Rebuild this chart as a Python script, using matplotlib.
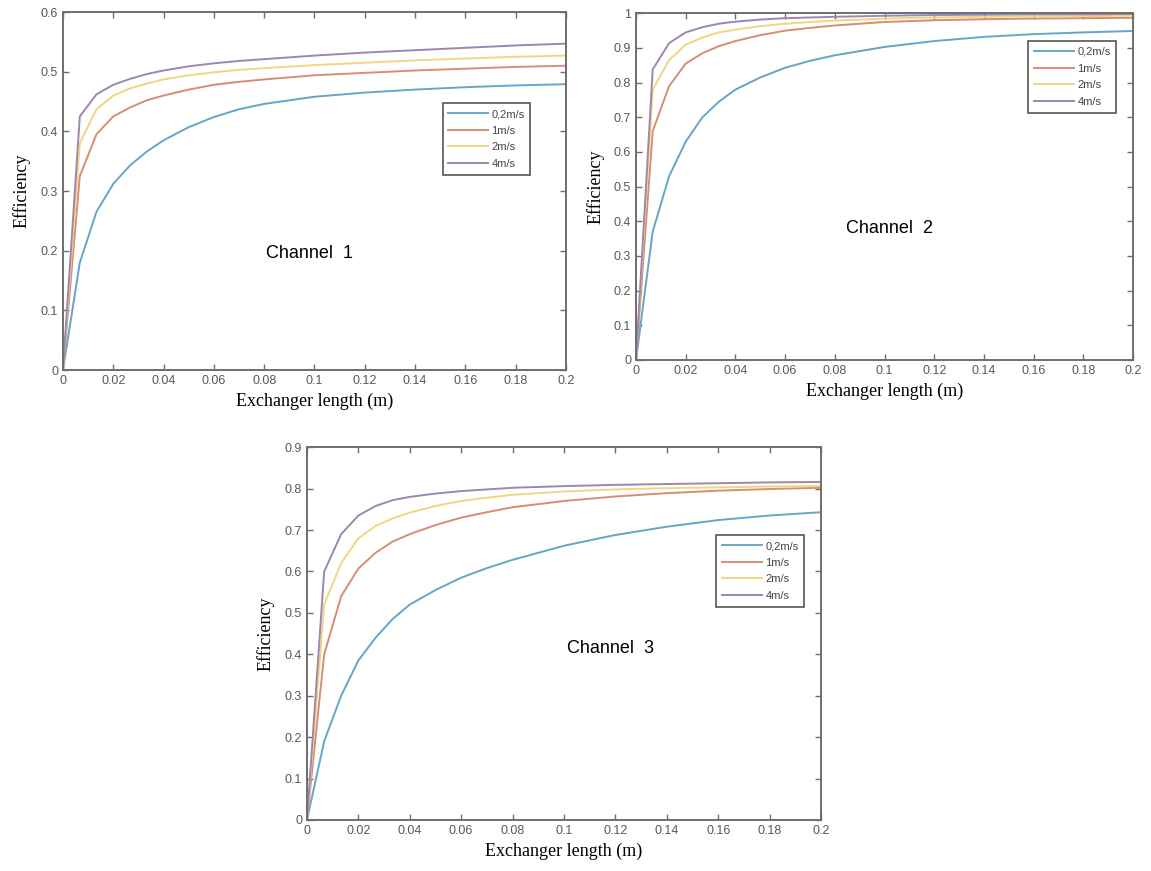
import matplotlib
matplotlib.use('Agg')
import matplotlib.pyplot as plt

# exchanger length (m)
length = [0, 0.0067, 0.0133, 0.02, 0.0267, 0.0333, 0.04, 0.05, 0.06, 0.07,
          0.08, 0.1, 0.12, 0.14, 0.16, 0.18, 0.2]

speeds = ['0,2m/s', '1m/s', '2m/s', '4m/s']

# channel 1
ch1_02 = [0, 0.18, 0.265, 0.312, 0.343, 0.366, 0.385, 0.407, 0.424, 0.437,
          0.446, 0.458, 0.465, 0.47, 0.474, 0.477, 0.479]
ch1_1 = [0, 0.325, 0.395, 0.425, 0.44, 0.452, 0.46, 0.47, 0.478, 0.483,
         0.487, 0.494, 0.498, 0.502, 0.505, 0.508, 0.51]
ch1_2 = [0, 0.38, 0.437, 0.46, 0.472, 0.48, 0.487, 0.494, 0.499, 0.503,
         0.506, 0.511, 0.515, 0.519, 0.522, 0.525, 0.527]
ch1_4 = [0, 0.425, 0.462, 0.478, 0.488, 0.496, 0.502, 0.509, 0.514, 0.518,
         0.521, 0.527, 0.532, 0.536, 0.54, 0.544, 0.547]

# channel 2
ch2_02 = [0, 0.37, 0.53, 0.63, 0.70, 0.745, 0.78, 0.815, 0.843, 0.863,
          0.879, 0.903, 0.92, 0.932, 0.94, 0.945, 0.949]
ch2_1 = [0, 0.66, 0.79, 0.855, 0.885, 0.905, 0.92, 0.937, 0.95, 0.958,
         0.965, 0.975, 0.98, 0.983, 0.985, 0.986, 0.987]
ch2_2 = [0, 0.78, 0.865, 0.91, 0.93, 0.945, 0.953, 0.963, 0.97, 0.975,
         0.979, 0.985, 0.988, 0.99, 0.991, 0.992, 0.993]
ch2_4 = [0, 0.838, 0.914, 0.945, 0.96, 0.97, 0.976, 0.982, 0.986, 0.988,
         0.99, 0.993, 0.995, 0.996, 0.997, 0.997, 0.998]

# channel 3
ch3_02 = [0, 0.19, 0.30, 0.385, 0.44, 0.485, 0.52, 0.555, 0.585, 0.608,
          0.628, 0.662, 0.688, 0.708, 0.724, 0.735, 0.743]
ch3_1 = [0, 0.40, 0.54, 0.607, 0.645, 0.672, 0.69, 0.712, 0.73, 0.743,
         0.755, 0.77, 0.781, 0.789, 0.795, 0.799, 0.802]
ch3_2 = [0, 0.52, 0.62, 0.68, 0.71, 0.728, 0.742, 0.758, 0.77, 0.778,
         0.785, 0.793, 0.798, 0.801, 0.803, 0.805, 0.806]
ch3_4 = [0, 0.60, 0.69, 0.735, 0.758, 0.772, 0.78, 0.788, 0.794, 0.798,
         0.802, 0.806, 0.809, 0.811, 0.813, 0.815, 0.816]

colors = ['#67a5c6', '#d68e72', '#f0d680', '#9d86b0']
gray = '#6e6e6e'


def make_panel(fig, rect, curves, ymax, yticks, name, name_xy, leg_anchor):
    ax = fig.add_axes(rect)
    for vals, lab, col in zip(curves, speeds, colors):
        ax.plot(length, vals, color=col, lw=1.4, label=lab)
    ax.set_xlim(0, 0.2)
    ax.set_ylim(0, ymax)
    xt = [0, 0.02, 0.04, 0.06, 0.08, 0.1, 0.12, 0.14, 0.16, 0.18, 0.2]
    ax.set_xticks(xt)
    ax.set_xticklabels(['0', '0.02', '0.04', '0.06', '0.08', '0.1', '0.12',
                        '0.14', '0.16', '0.18', '0.2'])
    ax.set_yticks(yticks)
    ax.set_yticklabels([('%g' % t) for t in yticks])
    ax.tick_params(direction='in', top=True, right=True, length=4,
                   width=1, color=gray, labelcolor='#585858', labelsize=9)
    for lbl in ax.get_xticklabels() + ax.get_yticklabels():
        lbl.set_family('Liberation Sans')
    for sp in ax.spines.values():
        sp.set_color(gray)
        sp.set_linewidth(1.4)
    ax.set_xlabel('Exchanger length (m)', family='Liberation Serif',
                  fontsize=13, labelpad=4)
    ax.set_ylabel('Efficiency', family='Liberation Serif', fontsize=13,
                  labelpad=7)
    ax.text(name_xy[0], name_xy[1], name, transform=ax.transAxes,
            family='Liberation Sans', fontsize=13, ha='center', va='center')
    leg = ax.legend(loc='upper right', bbox_to_anchor=leg_anchor,
                    prop={'family': 'Liberation Sans', 'size': 8},
                    handlelength=3.6, labelspacing=0.6,
                    fancybox=False, framealpha=1, borderpad=0.5,
                    handletextpad=0.3)
    leg.get_frame().set_edgecolor('#555555')
    leg.get_frame().set_linewidth(1.2)
    for t in leg.get_texts():
        t.set_color('#444444')
    return ax


fig = plt.figure(figsize=(11.51, 8.71), dpi=100)

make_panel(fig, [0.0547, 0.5752, 0.437, 0.411],
           [ch1_02, ch1_1, ch1_2, ch1_4], 0.6,
           [0, 0.1, 0.2, 0.3, 0.4, 0.5, 0.6],
           'Channel  1', (0.49, 0.325), (0.94, 0.76))

make_panel(fig, [0.5526, 0.5867, 0.4318, 0.398],
           [ch2_02, ch2_1, ch2_2, ch2_4], 1.0,
           [0, 0.1, 0.2, 0.3, 0.4, 0.5, 0.6, 0.7, 0.8, 0.9, 1],
           'Channel  2', (0.51, 0.38), (0.977, 0.935))

make_panel(fig, [0.2667, 0.0586, 0.4466, 0.428],
           [ch3_02, ch3_1, ch3_2, ch3_4], 0.9,
           [0, 0.1, 0.2, 0.3, 0.4, 0.5, 0.6, 0.7, 0.8, 0.9],
           'Channel  3', (0.59, 0.46), (0.978, 0.778))

fig.savefig('out.png', dpi=100)
